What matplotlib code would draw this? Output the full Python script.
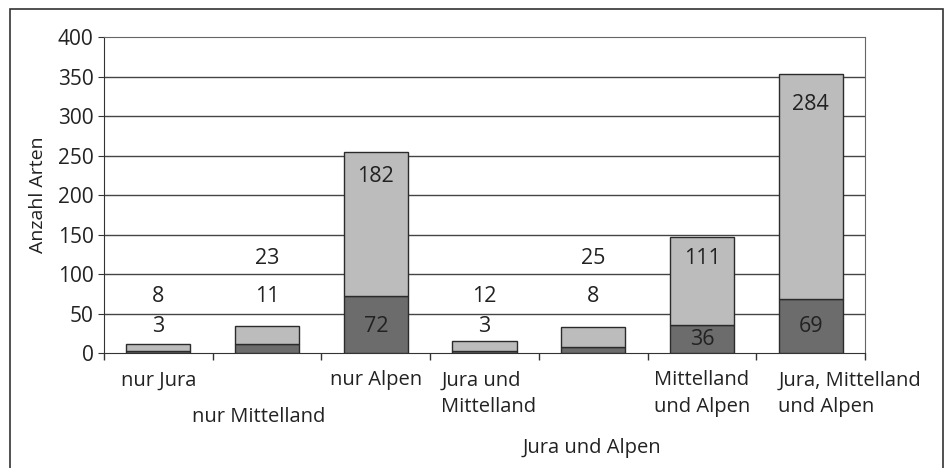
import matplotlib.pyplot as plt
from matplotlib.patches import Rectangle
from matplotlib.transforms import blended_transform_factory

plt.rcParams['font.family'] = ['Open Sans', 'DejaVu Sans']

categories = ['nur Jura', 'nur Mittelland', 'nur Alpen', 'Jura und\nMittelland',
              'Jura und Alpen', 'Mittelland\nund Alpen', 'Jura, Mittelland\nund Alpen']
unten = [3, 11, 72, 3, 8, 36, 69]
oben = [8, 23, 182, 12, 25, 111, 284]

# label layout (data y of the numbers, axes position of the category names)
y_unten = [33, 71, 33, 33, 71, 17, 33]
y_oben = [71, 120, 223, 71, 120, 120, 315]
x_kat = [0.0, -0.08, 0.0, 0.04, -0.01, 0.0, 0.36]
y_kat = [-0.055, -0.17, -0.055, -0.055, -0.27, -0.055, -0.055]

fig = plt.figure(figsize=(9.46, 4.68), dpi=100)
ax = fig.add_axes([0.11, 0.2457, 0.8044, 0.6752])

x = list(range(len(categories)))
ax.bar(x, unten, width=0.59, color='#6c6c6c', edgecolor='#2b2b2b', linewidth=1, zorder=3)
ax.bar(x, oben, width=0.59, bottom=unten, color='#bcbcbc', edgecolor='#2b2b2b', linewidth=1, zorder=3)

for i in x:
    ax.text(i, y_unten[i], str(unten[i]), ha='center', va='center', fontsize=15.5, color='#222222', zorder=4)
    ax.text(i, y_oben[i], str(oben[i]), ha='center', va='center', fontsize=15.5, color='#222222', zorder=4)

trans = blended_transform_factory(ax.transData, ax.transAxes)
for i, name in enumerate(categories):
    ax.text(i + x_kat[i], y_kat[i], name, transform=trans, ha='center', va='top',
            multialignment='left', fontsize=14.5, color='#222222', linespacing=1.45)

ax.set_xlim(-0.5, len(categories) - 0.5)
ax.set_ylim(0, 400)
ax.set_yticks(range(0, 401, 50))
ax.tick_params(axis='y', labelsize=15, length=4, colors='#333333', labelcolor='#222222')
ax.set_xticks(x)
ax.set_xticklabels([])
ax.tick_params(axis='x', which='major', length=0)
ax.set_xticks([i - 0.5 for i in range(len(categories) + 1)], minor=True)
ax.tick_params(axis='x', which='minor', length=5, width=1, color='#333333')

for yv in range(50, 400, 50):
    ax.axhline(yv, color='#444444', linewidth=1, zorder=1)

ax.spines['left'].set_color('#333333')
ax.spines['bottom'].set_color('#333333')
ax.spines['top'].set_linestyle((0, (3, 1)))
ax.spines['top'].set_color('#666666')
ax.spines['right'].set_linestyle((0, (1, 1)))
ax.spines['right'].set_color('#666666')

ax.set_ylabel('Anzahl Arten', fontsize=14, color='#222222')
ax.yaxis.set_label_coords(-0.075, 0.5)

fig.patches.append(Rectangle((10 / 946, -0.05), 933 / 946, 1.05 - 9 / 468, transform=fig.transFigure,
                             fill=False, edgecolor='#333333', linewidth=1.2))

fig.savefig('out.png', dpi=100)
